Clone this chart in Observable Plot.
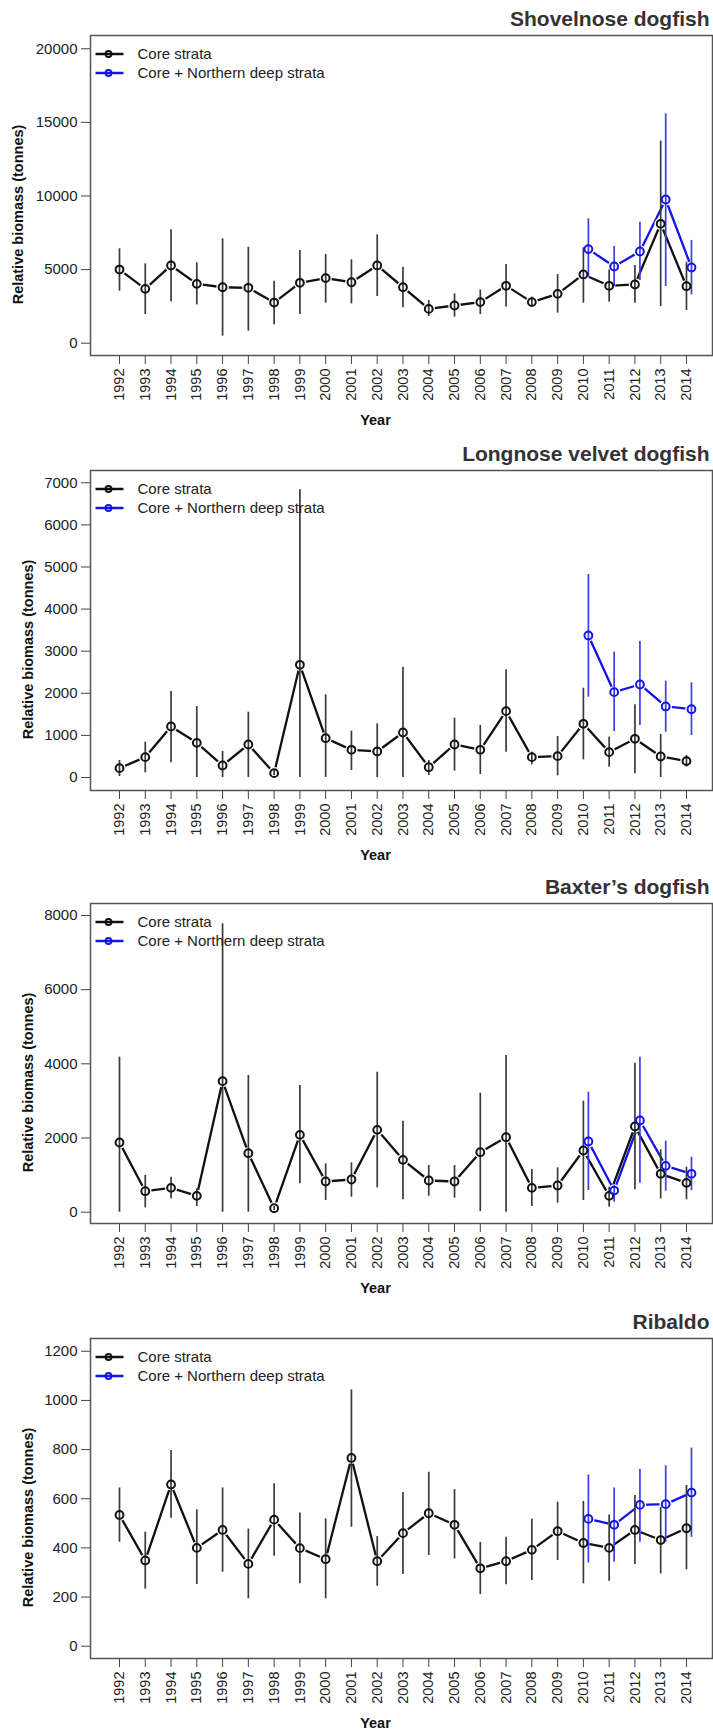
<!DOCTYPE html>
<html>
<head>
<meta charset="utf-8">
<script src="https://cdn.jsdelivr.net/npm/d3@7"></script>
<script src="https://cdn.jsdelivr.net/npm/@observablehq/plot@0.6"></script>
<style>
  body { margin: 0; background: #fff; }
  #chart svg { display: block; }
</style>
</head>
<body>
<div id="chart"></div>
<script>
// ---- categories ----
const years = [1992,1993,1994,1995,1996,1997,1998,1999,2000,2001,2002,2003,2004,2005,2006,2007,2008,2009,2010,2011,2012,2013,2014];
const northYears = [2010,2011,2012,2013,2014];
const seriesNames = ["Core strata", "Core + Northern deep strata"];

// ---- Shovelnose dogfish ----
const shovelCore   = [5000,3690,5280,4030,3800,3760,2760,4100,4420,4140,5280,3800,2330,2560,2790,3900,2790,3350,4670,3900,3990,8110,3870];
const shovelCoreLo = [3530,1950,2790,2600,480,820,1250,1950,2720,2670,3170,2400,1810,1770,1950,2450,2490,2040,2720,2790,2720,2490,2220];
const shovelCoreHi = [6410,5390,7700,5460,7090,6520,4210,6300,6020,5660,7360,5160,2900,3350,3620,5350,3130,4670,6480,4980,5280,13730,5500];
const shovelNorth   = [6390,5210,6230,9760,5140];
const shovelNorthLo = [4480,3850,4260,3850,3280];
const shovelNorthHi = [8450,6570,8220,15580,6980];
const shovelTicks = [0,5000,10000,15000,20000];

// ---- Longnose velvet dogfish ----
const velvetCore   = [222,483,1211,823,285,784,103,2676,934,657,618,1069,245,784,657,1576,483,507,1275,602,919,499,388];
const velvetCoreLo = [24,111,348,0,0,0,40,0,0,166,0,0,48,150,71,602,301,40,420,245,87,0,245];
const velvetCoreHi = [404,839,2043,1687,618,1552,166,6833,1964,1100,1275,2621,404,1409,1235,2558,602,974,2122,958,1726,1021,523];
const velvetNorth   = [3373,2027,2209,1687,1623];
const velvetNorthLo = [1908,1093,1235,1077,998];
const velvetNorthHi = [4822,2977,3231,2289,2249];
const velvetTicks = [0,1000,2000,3000,4000,5000,6000,7000];

// ---- Baxter's dogfish ----
const baxterCore   = [1879,566,656,440,3533,1591,108,2085,827,881,2220,1411,854,827,1618,2022,656,719,1663,440,2310,1034,791];
const baxterCoreLo = [0,117,360,153,0,0,45,764,315,404,656,333,431,378,18,0,153,243,315,135,602,360,333];
const baxterCoreHi = [4180,989,944,629,7775,3685,153,3416,1303,1330,3775,2454,1258,1258,3209,4225,1151,1196,2993,674,4018,1681,1213];
const baxterNorth   = [1906,584,2472,1249,1034];
const baxterNorthLo = [584,270,782,566,584];
const baxterNorthHi = [3236,719,4180,1915,1483];
const baxterTicks = [0,2000,4000,6000,8000];

// ---- Ribaldo ----
const ribaldoCore   = [534,349,658,400,473,335,515,399,354,766,346,460,541,494,317,346,392,468,420,400,473,432,480];
const ribaldoCoreLo = [423,232,521,251,301,193,366,254,193,484,244,292,369,355,210,250,267,349,254,264,332,294,311];
const ribaldoCoreHi = [644,464,796,555,644,477,661,542,518,1043,446,625,708,637,422,443,517,586,589,534,613,565,654];
const ribaldoNorth   = [518,494,575,578,625];
const ribaldoNorthLo = [339,342,423,423,443];
const ribaldoNorthHi = [697,644,719,734,806];
const ribaldoTicks = [0,200,400,600,800,1000,1200];

// ---- build tables ----
function table(xs, v, lo, hi) {
  return xs.map((x, i) => ({year: x, value: v[i], lo: lo[i], hi: hi[i]}));
}
const panels = [
  {title: "Shovelnose dogfish", core: table(years, shovelCore, shovelCoreLo, shovelCoreHi),
   north: table(northYears, shovelNorth, shovelNorthLo, shovelNorthHi), ticks: shovelTicks,
   domain: [-836, 20900], height: 435, ytx: -72},
  {title: "Longnose velvet dogfish", core: table(years, velvetCore, velvetCoreLo, velvetCoreHi),
   north: table(northYears, velvetNorth, velvetNorthLo, velvetNorthHi), ticks: velvetTicks,
   domain: [-309, 7292], height: 433, ytx: -62},
  {title: "Baxter\u2019s dogfish", core: table(years, baxterCore, baxterCoreLo, baxterCoreHi),
   north: table(northYears, baxterNorth, baxterNorthLo, baxterNorthHi), ticks: baxterTicks,
   domain: [-305, 8323], height: 435, ytx: -62},
  {title: "Ribaldo", core: table(years, ribaldoCore, ribaldoCoreLo, ribaldoCoreHi),
   north: table(northYears, ribaldoNorth, ribaldoNorthLo, ribaldoNorthHi), ticks: ribaldoTicks,
   domain: [-50, 1252], height: 430, ytx: -62}
];

const BLACK = "#111111";
const BLUE = "#1414e6";
const BLUE_CI = "#3c3cf0";
const FONT = "Liberation Sans, Arial, Helvetica, sans-serif";
const OFF = 5; // horizontal dodge for second series (px)

const lineSym = {draw(ctx) { ctx.moveTo(-14, 0); ctx.lineTo(14, 0); }};

function legendMarks(name, color, dy) {
  return [
    Plot.dot([name], {frameAnchor: "top-left", dx: 19, dy, symbol: lineSym,
                      fill: "none", stroke: color, strokeWidth: 2.5}),
    Plot.dot([name], {frameAnchor: "top-left", dx: 18, dy, r: 3,
                      fill: "none", stroke: color, strokeWidth: 1.8}),
    Plot.text([name], {text: d => d, frameAnchor: "top-left", dx: 47, dy,
                       textAnchor: "start", lineAnchor: "middle", fontSize: 15, fill: "#222"})
  ];
}

const chart = document.getElementById("chart");
panels.forEach(p => {
  const frameH = 320;
  const svg = Plot.plot({
    width: 713,
    height: p.height,
    marginTop: 35,
    marginBottom: p.height - 35 - frameH,
    marginLeft: 90,
    marginRight: 1,
    style: {fontFamily: FONT, fontSize: "15px", color: "#222", background: "#fff"},
    x: {domain: [1990.875, 2015.01]},
    y: {domain: p.domain},
    marks: [
      // lines
      Plot.line(p.core, {x: "year", y: "value", stroke: BLACK, strokeWidth: 2.3}),
      Plot.line(p.north, {x: "year", y: "value", stroke: BLUE, strokeWidth: 2.3, dx: OFF}),
      // gaps around points (type = "b" look)
      Plot.dot(p.core, {x: "year", y: "value", r: 6.2, fill: "white", stroke: "none"}),
      Plot.dot(p.north, {x: "year", y: "value", r: 6.2, fill: "white", stroke: "none", dx: OFF}),
      // confidence intervals
      Plot.ruleX(p.core, {x: "year", y1: "lo", y2: "hi", stroke: "#3a3a3a", strokeWidth: 1.7}),
      Plot.ruleX(p.north, {x: "year", y1: "lo", y2: "hi", stroke: BLUE_CI, strokeWidth: 1.7, dx: OFF}),
      // hollow points
      Plot.dot(p.core, {x: "year", y: "value", r: 3.9, fill: "none", stroke: BLACK, strokeWidth: 2}),
      Plot.dot(p.north, {x: "year", y: "value", r: 3.9, fill: "none", stroke: BLUE, strokeWidth: 2, dx: OFF}),
      // frame and axes
      Plot.frame({stroke: "#555", strokeWidth: 1.5}),
      Plot.axisY({ticks: p.ticks, tickSize: 9, tickPadding: 4, fontSize: 15, tickFormat: d3.format("d"),
                  label: null, stroke: "#444", fill: "#222"}),
      Plot.axisX({ticks: years, tickSize: 9, tickPadding: 4, fontSize: 14.5, tickRotate: -90,
                  tickFormat: d => String(d), label: null, stroke: "#444", fill: "#222"}),
      // axis titles
      Plot.text(["Year"], {text: d => d, frameAnchor: "bottom", dx: -26, dy: 65, lineAnchor: "middle",
                           fontWeight: "bold", fontSize: 14.5, fill: "#111"}),
      Plot.text(["Relative biomass (tonnes)"], {text: d => d, frameAnchor: "left", dx: p.ytx, dy: 19,
                           rotate: -90, textAnchor: "middle", lineAnchor: "middle",
                           fontWeight: "bold", fontSize: 14.5, fill: "#111"}),
      // panel title
      Plot.text([p.title], {text: d => d, frameAnchor: "top-right", dx: -3, dy: -9.5, textAnchor: "end",
                           lineAnchor: "bottom", fontWeight: "bold", fontSize: 21, fill: "#333"}),
      // legend
      ...legendMarks(seriesNames[0], BLACK, 18.5),
      ...legendMarks(seriesNames[1], BLUE, 37.5)
    ]
  });
  chart.appendChild(svg);
});
</script>
</body>
</html>
